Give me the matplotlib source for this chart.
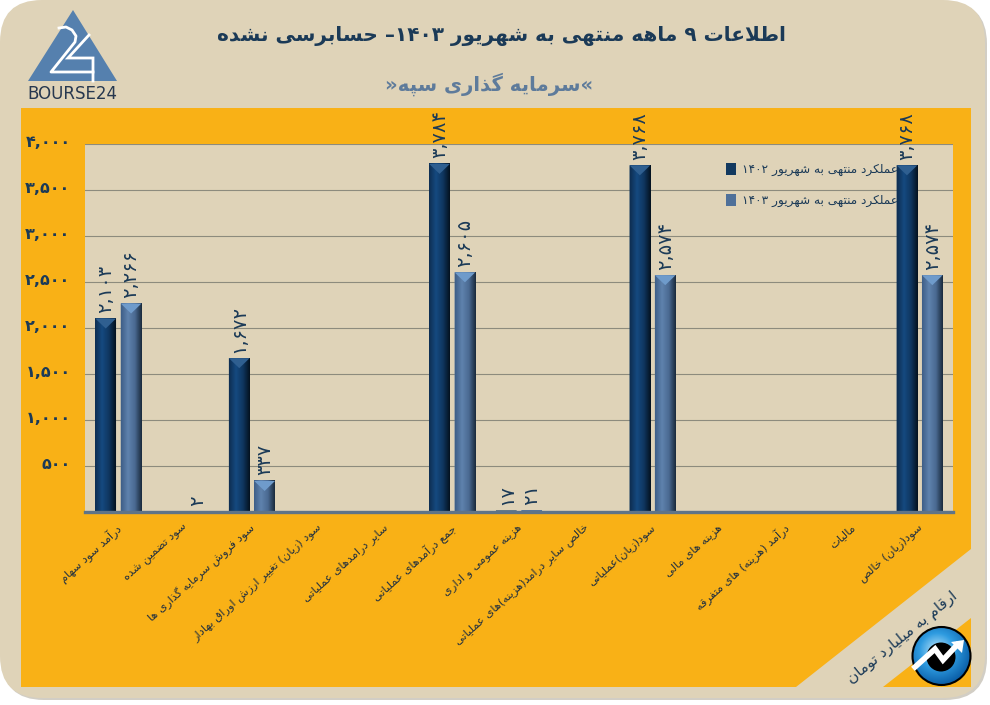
import numpy as np
import matplotlib
matplotlib.use('Agg')
import matplotlib.pyplot as plt
from matplotlib.colors import LinearSegmentedColormap
from matplotlib.patches import Polygon, FancyBboxPatch, Circle
from matplotlib.transforms import ScaledTranslation

categories = [
    'درآمد سود سهام', 'سود تضمین شده', 'سود فروش سرمایه گذاری ها',
    'سود (زیان) تغییر ارزش اوراق بهادار', 'سایر درامدهای عملیاتی',
    'جمع درآمدهای عملیاتی', 'هزینه عمومی و اداری',
    'خالص سایر درامد(هزینه)های عملیاتی', 'سود(زیان)عملیاتی',
    'هزینه های مالی', 'درآمد (هزینه) های متفرقه', 'مالیات', 'سود(زیان) خالص',
]
values_1402 = [2103, None, 1672, None, None, 3784, 17, None, 3768, None, None, None, 3768]
values_1403 = [2266, 2, 337, None, None, 2605, 21, None, 2574, None, None, None, 2574]
series_names = ['عملکرد منتهی به شهریور ۱۴۰۲', 'عملکرد منتهی به شهریور ۱۴۰۳']
ytick_values = [500, 1000, 1500, 2000, 2500, 3000, 3500, 4000]
title_text = 'اطلاعات ۹ ماهه منتهی به شهریور ۱۴۰۳– حسابرسی نشده'
subtitle_text = '«سرمایه گذاری سپه»'
unit_text = 'ارقام به میلیارد تومان'

# iso, final, initial, medial (two forms only for letters that do not join forward)
FORMS = {
    'ا': (0xFE8D, 0xFE8E), 'آ': (0xFE81, 0xFE82), 'د': (0xFEA9, 0xFEAA), 'ذ': (0xFEAB, 0xFEAC),
    'ر': (0xFEAD, 0xFEAE), 'ز': (0xFEAF, 0xFEB0), 'ژ': (0xFB8A, 0xFB8B), 'و': (0xFEED, 0xFEEE),
    'ب': (0xFE8F, 0xFE90, 0xFE91, 0xFE92), 'پ': (0xFB56, 0xFB57, 0xFB58, 0xFB59),
    'ت': (0xFE95, 0xFE96, 0xFE97, 0xFE98), 'ث': (0xFE99, 0xFE9A, 0xFE9B, 0xFE9C),
    'ج': (0xFE9D, 0xFE9E, 0xFE9F, 0xFEA0), 'چ': (0xFB7A, 0xFB7B, 0xFB7C, 0xFB7D),
    'ح': (0xFEA1, 0xFEA2, 0xFEA3, 0xFEA4), 'خ': (0xFEA5, 0xFEA6, 0xFEA7, 0xFEA8),
    'س': (0xFEB1, 0xFEB2, 0xFEB3, 0xFEB4), 'ش': (0xFEB5, 0xFEB6, 0xFEB7, 0xFEB8),
    'ص': (0xFEB9, 0xFEBA, 0xFEBB, 0xFEBC), 'ض': (0xFEBD, 0xFEBE, 0xFEBF, 0xFEC0),
    'ط': (0xFEC1, 0xFEC2, 0xFEC3, 0xFEC4), 'ظ': (0xFEC5, 0xFEC6, 0xFEC7, 0xFEC8),
    'ع': (0xFEC9, 0xFECA, 0xFECB, 0xFECC), 'غ': (0xFECD, 0xFECE, 0xFECF, 0xFED0),
    'ف': (0xFED1, 0xFED2, 0xFED3, 0xFED4), 'ق': (0xFED5, 0xFED6, 0xFED7, 0xFED8),
    'ک': (0xFB8E, 0xFB8F, 0xFB90, 0xFB91), 'گ': (0xFB92, 0xFB93, 0xFB94, 0xFB95),
    'ل': (0xFEDD, 0xFEDE, 0xFEDF, 0xFEE0), 'م': (0xFEE1, 0xFEE2, 0xFEE3, 0xFEE4),
    'ن': (0xFEE5, 0xFEE6, 0xFEE7, 0xFEE8), 'ه': (0xFEE9, 0xFEEA, 0xFEEB, 0xFEEC),
    'ی': (0xFBFC, 0xFBFD, 0xFBFE, 0xFBFF),
}
NUM_CHARS = '۰۱۲۳۴۵۶۷۸۹,'


def fa(text):
    # matplotlib does no shaping or bidi, so do both by hand
    text = text.replace('لا', '\uFEFB')
    shaped = []
    for i, ch in enumerate(text):
        if ch == '\uFEFB':
            prev = text[i - 1] if i else ''
            shaped.append('\uFEFC' if prev in FORMS and len(FORMS[prev]) == 4 else ch)
            continue
        if ch not in FORMS:
            shaped.append(ch)
            continue
        prev = text[i - 1] if i else ''
        nxt = text[i + 1] if i + 1 < len(text) else ''
        joins_prev = prev in FORMS and len(FORMS[prev]) == 4
        joins_next = len(FORMS[ch]) == 4 and (nxt in FORMS or nxt == '\uFEFB')
        forms = FORMS[ch]
        if joins_prev and joins_next:
            code = forms[3]
        elif joins_next:
            code = forms[2]
        elif joins_prev:
            code = forms[1]
        else:
            code = forms[0]
        shaped.append(chr(code))
    out = []
    run = ''
    for ch in reversed(shaped):
        if ch in NUM_CHARS:
            run = ch + run
            continue
        out.append(run)
        run = ''
        out.append({'(': ')', ')': '('}.get(ch, ch))
    out.append(run)
    return ''.join(out)


def to_fa_digits(number):
    return f'{number:,}'.translate(str.maketrans('0123456789', '۰۱۲۳۴۵۶۷۸۹'))


plt.rcParams['font.family'] = ['DejaVu Sans']
BEIGE = '#DFD3B8'
ORANGE = '#F9B116'
NAVY = '#1B3A57'
SLATE = '#5E7B9B'

fig = plt.figure(figsize=(9.9, 7.05), dpi=100, facecolor='white')

# decoration layer, in pixels of the picture
bg = fig.add_axes([0, 0, 1, 1], zorder=0)
bg.set_xlim(0, 990)
bg.set_ylim(705, 0)
bg.axis('off')
bg.add_patch(FancyBboxPatch((44, 44), 901, 614, boxstyle='round,pad=42,rounding_size=42',
                            fc='#D2CEC5', ec='none'))
bg.add_patch(FancyBboxPatch((42, 42), 901, 614, boxstyle='round,pad=42,rounding_size=42',
                            fc=BEIGE, ec='none'))
bg.add_patch(Polygon([(21, 108), (971, 108), (971, 549), (796, 687), (21, 687)], fc=ORANGE, ec='none'))
bg.add_patch(Polygon([(971, 618), (971, 687), (883, 687)], fc=ORANGE, ec='none'))
bg.add_patch(Polygon([(85, 144), (953, 144), (953, 512), (85, 512)], fc=BEIGE, ec='none'))

# bourse24 logo
bg.add_patch(Polygon([(73, 10), (28, 81), (117, 81)], fc='#5580AE', ec='none'))
bg.plot([59, 66, 72, 76, 75, 51, 93], [28, 27, 30, 36, 42, 72, 72], color='white', lw=2, solid_joinstyle='round')
bg.plot([89, 68, 93, 93], [35, 58, 58, 81], color='white', lw=2, solid_joinstyle='miter')
bg.text(72, 94, 'BOURSE24', ha='center', va='center', fontsize=12, color='#27384F')

bg.text(501, 36, fa(title_text), ha='center', va='center', fontsize=14.4, fontweight='bold', color=NAVY)
bg.text(489, 84, fa(subtitle_text), ha='center', va='center', fontsize=14.1, fontweight='bold', color=SLATE)
bg.text(903, 638, fa(unit_text), ha='center', va='center', rotation=39, rotation_mode='anchor',
        fontsize=11, color=NAVY)

# round badge bottom right
yy, xx = np.mgrid[-1:1:120j, -1:1:120j]
rr = np.sqrt((xx + 0.15) ** 2 + (yy + 0.2) ** 2)
badge_cmap = LinearSegmentedColormap.from_list('badge', ['#BFE6FA', '#2E9BE0', '#0B5FA8'])
badge = bg.imshow(rr, extent=(912, 971, 685, 627), cmap=badge_cmap, vmin=0, vmax=1.2,
                  aspect='auto', zorder=3, interpolation='bilinear')
badge.set_clip_path(Circle((941.5, 656), 29, transform=bg.transData))
bg.add_patch(Circle((941.5, 656), 29, fc='none', ec='black', lw=1.5, zorder=4))
bg.add_patch(Circle((941, 657), 14.5, fc='black', ec='none', zorder=4))
bg.plot([915, 935, 943, 957], [667, 649, 660, 645], color='white', lw=4, zorder=5, solid_joinstyle='miter')
bg.add_patch(Polygon([(951, 642), (964, 640), (962, 653)], fc='white', ec='none', zorder=5))
bg.set_xlim(0, 990)
bg.set_ylim(705, 0)

# chart
ax = fig.add_axes([85 / 990, 1 - 512 / 705, 868 / 990, 368 / 705], zorder=2)
ax.patch.set_visible(False)

x = np.arange(len(categories))
bar_w = 0.31
offset = 0.19
px_y = 4000 / 368
series = [
    (np.array([np.nan if v is None else v for v in values_1402], dtype=float), -offset,
     ['#0E2E52', '#154A80', '#0F3660', '#04121F'], '#2F5F90', '#12395F'),
    (np.array([np.nan if v is None else v for v in values_1403], dtype=float), offset,
     ['#3E5F88', '#5F82AD', '#4A6A92', '#1A2A3C'], '#6F9BCB', '#4F7099'),
]

for (vals, off, stops, bevel, legend_col), name in zip(series, series_names):
    pos = x + off
    ax.bar(pos, np.nan_to_num(vals), bar_w, color=legend_col, zorder=3, label=fa(name), snap=False)
    cmap = LinearSegmentedColormap.from_list('bar', stops)
    grad = np.linspace(0, 1, 64).reshape(1, -1)
    for p, v in zip(pos, vals):
        if np.isnan(v):
            continue
        # bars under 3px sit behind the axis line, no shading needed
        if v > 3 * px_y:
            ax.imshow(grad, extent=(p - bar_w / 2, p + bar_w / 2, 0, v), cmap=cmap, aspect='auto', zorder=3.1)
            ax.fill([p - bar_w / 2, p + bar_w / 2, p], [v, v, v - 10 * px_y], color=bevel, lw=0, zorder=3.2)
        ax.annotate(to_fa_digits(int(v)), (p, v), xytext=(0, 4), textcoords='offset points',
                    rotation=90, ha='center', va='bottom', fontsize=14, color=NAVY,
                    annotation_clip=False, zorder=6)

ax.set_xlim(-0.5, len(categories) - 0.5)
ax.set_ylim(0, 4000)
ax.set_yticks(ytick_values, [to_fa_digits(v) for v in ytick_values], fontsize=11.5, fontweight='bold', color=NAVY)
ax.set_xticks(x, [fa(c) for c in categories], rotation=42, ha='right', rotation_mode='anchor',
              fontsize=8.2, color='#22303F')
ax.tick_params(axis='both', length=0)
ax.tick_params(axis='y', pad=10.5)
ax.tick_params(axis='x', pad=7)
up = ScaledTranslation(0, 2 / 72, fig.dpi_scale_trans)
for lab in ax.get_yticklabels():
    lab.set_transform(lab.get_transform() + up)
left = ScaledTranslation(-2 / 72, 0, fig.dpi_scale_trans)
for lab in ax.get_xticklabels():
    lab.set_transform(lab.get_transform() + left)
ax.grid(axis='y', color='#8D8B7D', lw=0.8)
ax.set_axisbelow(True)
for side in ['top', 'left', 'right']:
    ax.spines[side].set_visible(False)
ax.spines['bottom'].set_color('#5F7488')
ax.spines['bottom'].set_linewidth(2.4)
ax.spines['bottom'].set_zorder(7)

leg = ax.legend(loc='upper left', bbox_to_anchor=(0.726, 0.978), frameon=False, fontsize=8.7,
                labelspacing=1.5, handlelength=0.85, handleheight=1.1, handletextpad=0.45,
                labelcolor=NAVY)
leg.set_zorder(1)

fig.savefig('out.png', dpi=100, facecolor='white')
